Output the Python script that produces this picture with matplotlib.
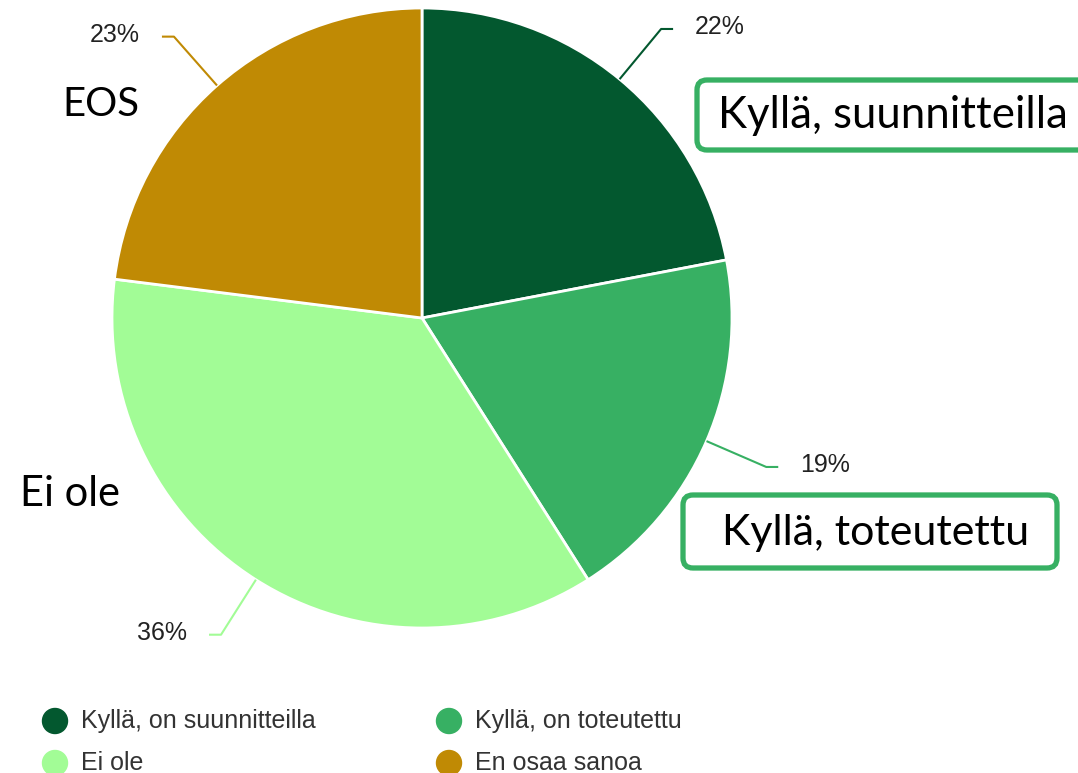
import matplotlib.pyplot as plt
from matplotlib.patches import FancyBboxPatch, Circle
import numpy as np

labels = ['Kyllä, on suunnitteilla', 'Kyllä, on toteutettu', 'Ei ole', 'En osaa sanoa']
values = [22, 19, 36, 23]
colors = ['#03582f', '#37b063', '#a2fc96', '#c08a04']

W, H = 1078, 773
cx, cy, r = 422, H - 318, 310

fig = plt.figure(figsize=(W / 100, H / 100), dpi=100)
ax = fig.add_axes([0, 0, 1, 1])

wedges, _ = ax.pie(values, colors=colors, startangle=90, counterclock=False,
                   center=(cx, cy), radius=r,
                   wedgeprops=dict(edgecolor='white', linewidth=2))

# percentage labels with elbow leader lines
for w, v, c in zip(wedges, values, colors):
    ang = np.deg2rad((w.theta1 + w.theta2) / 2)
    ca, sa = np.cos(ang), np.sin(ang)
    p0 = (cx + r * ca, cy + r * sa)
    p1 = (cx + 1.21 * r * ca, cy + 1.21 * r * sa)
    side = 1 if ca > 0 else -1
    p2 = (p1[0] + 12 * side, p1[1])
    ax.plot([p0[0], p1[0], p2[0]], [p0[1], p1[1], p2[1]], color=c, lw=1.5,
            solid_capstyle='butt')
    ax.text(p2[0] + 22 * side, p2[1] + 2, '%d%%' % v, ha='left' if side > 0 else 'right',
            va='center', fontsize=18, color='#222222', family='Liberation Sans')

# overlay annotations
big = dict(color='black', family=['Lato', 'DejaVu Sans'], va='center')
for x0, y0, x1, y1 in [(697, 80, 1100, 150), (683, 495, 1057, 568)]:
    ax.add_patch(FancyBboxPatch((x0, H - y1), x1 - x0, y1 - y0,
                                boxstyle='round,pad=0,rounding_size=10',
                                fc='white', ec='#37b063', lw=3.8))
ax.text(718, H - 115, 'Kyllä, suunnitteilla', ha='left', fontsize=31.5, **big)
ax.text(722, H - 533, 'Kyllä, toteutettu', ha='left', fontsize=31, **big)
ax.text(62, H - 104, 'EOS', ha='left', fontsize=29, **big)
ax.text(20, H - 494, 'Ei ole', ha='left', fontsize=30, **big)

# legend
for i, (lab, c) in enumerate(zip(labels, colors)):
    x = 55 + (i % 2) * 394
    y = H - (721 + (i // 2) * 42)
    ax.add_patch(Circle((x, y), 12.5, color=c))
    ax.text(x + 26, y, lab, ha='left', va='center', fontsize=18, color='#333333',
            family='Liberation Sans')

ax.set_xlim(0, W)
ax.set_ylim(0, H)
ax.set_aspect('auto')
ax.set_axis_off()

fig.savefig('out.png', dpi=100)
